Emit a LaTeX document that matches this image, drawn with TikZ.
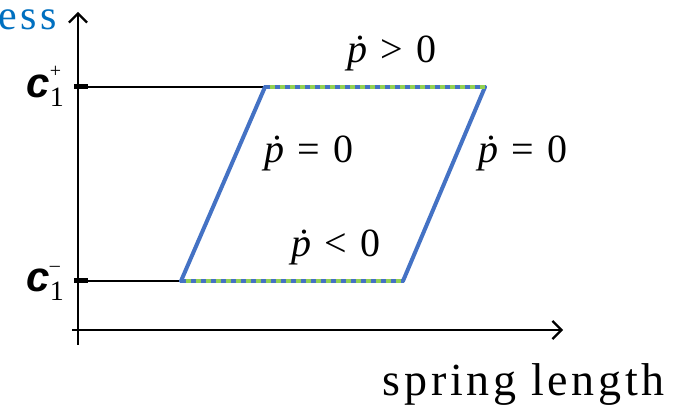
\documentclass[tikz,border=0pt]{standalone}
\usepackage{fontspec}
\newfontfamily\tms{Liberation Serif}
\newfontfamily\lblsans{Liberation Sans}
\newfontfamily\spacedserif[LetterSpace=8]{Liberation Serif}
\usetikzlibrary{arrows.meta}
\definecolor{pblue}{RGB}{68,114,196}
\definecolor{pgreen}{RGB}{146,208,80}
\definecolor{tblue}{RGB}{0,112,192}
\newcommand{\pdotrel}[1]{{\itshape ṗ}\hspace{0.33em}#1\hspace{0.33em}0}
\newcommand{\plainser}{\tms\upshape\mdseries}
\tikzset{
  axis/.style={line width=2.2pt,-{Straight Barb[length=9pt,width=18pt,line width=2.2pt]}},
  hline/.style={line width=2.4pt},
  tick/.style={line width=5pt},
  sideline/.style={line width=4pt,pblue},
  greenline/.style={line width=4pt,pgreen},
  dotline/.style={line width=4pt,pblue,dash pattern=on 5pt off 5pt},
  mlabel/.style={anchor=base,inner sep=0pt,font=\tms\fontsize{40}{42}\selectfont},
}
\begin{document}
\begin{tikzpicture}[x=1pt,y=-1pt]
\useasboundingbox (0,0) rectangle (681,411);
% axes
\coordinate (yb) at (78,345);
\coordinate (yt) at (78,12);
\coordinate (xl) at (72,330);
\coordinate (xr) at (563,330);
\draw[axis] (yb) -- (yt);
\draw[axis] (xl) -- (xr);
% corners
\coordinate (BL) at (181,281);
\coordinate (BR) at (403,281);
\coordinate (TR) at (485,87);
\coordinate (TL) at (265,87);
\coordinate (yp) at (78,87);
\coordinate (ym) at (78,281);
% ticks
\draw[tick] (74,87) -- (88,87);
\draw[tick] (74,281) -- (88,281);
% horizontal black lines
\draw[hline] (yp) -- (TL);
\draw[hline] (ym) -- (BL);
% sides
\draw[sideline,line cap=round] (BL) -- (TL);
\draw[sideline,line cap=round] (BR) -- (TR);
\draw[greenline] (TL) -- (TR);
\draw[greenline] (BL) -- (BR);
\draw[dotline] (TL) -- (TR);
\draw[dotline] (BL) -- (BR);
% labels
\node[mlabel] (lt) at (392,63) {\pdotrel{>}};
\node[mlabel] (ll) at (309,163) {\pdotrel{=}};
\node[mlabel] (lr) at (523,163) {\pdotrel{=}};
\node[mlabel] (lb) at (336,257) {\pdotrel{<}};
% axis labels
\node[anchor=base east,inner sep=0pt,font=\spacedserif\fontsize{46}{48}\selectfont] (xlab) at (665,396) {spring length};
\node[anchor=base east,inner sep=0pt,text=tblue,font=\spacedserif\fontsize{42}{44}\selectfont] (ylab) at (57,30) {ess};
% c labels
\node[anchor=base east,inner sep=0pt] (cp) at (64,98) {\lblsans\bfseries\itshape\fontsize{42}{44}\selectfont c\rlap{\raisebox{20pt}{\plainser\fontsize{20}{22}\selectfont +}}\raisebox{-9pt}{\plainser\fontsize{28}{30}\selectfont 1}};
\node[anchor=base east,inner sep=0pt] (cm) at (64,292) {\lblsans\bfseries\itshape\fontsize{42}{44}\selectfont c\rlap{\raisebox{20pt}{\plainser\fontsize{20}{22}\selectfont –}}\raisebox{-9pt}{\plainser\fontsize{28}{30}\selectfont 1}};
\end{tikzpicture}
\end{document}
